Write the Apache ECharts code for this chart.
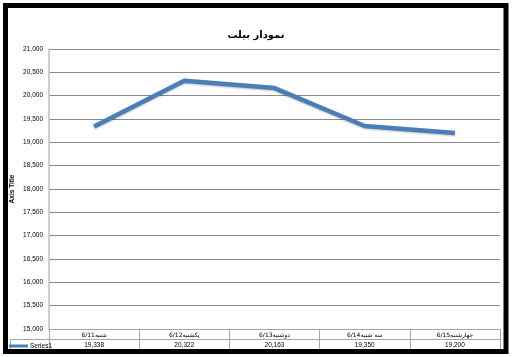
<!DOCTYPE html>
<html><head><meta charset="utf-8">
<script src="https://cdn.jsdelivr.net/npm/echarts@6/dist/echarts.min.js"></script>
<style>html,body{margin:0;padding:0;background:#fff}#c{width:512px;height:357px}</style>
</head><body><div id="c"></div>
<script>
const titleText = 'نمودار بیلت';
const categories = ['6/11شنبه', '6/12یکشنبه', '6/13دوشنبه', '6/14سه شنبه', '6/15چهارشنبه'];
const seriesName = 'Series1';
const values = [19338, 20322, 20163, 19350, 19200];
const yMin = 15000, yMax = 21000, yStep = 500;
const axisTitle = 'Axis Title';

const fmt = v => v.toLocaleString('en-US');
const font = 'Liberation Sans, Arial, DejaVu Sans, sans-serif';
const arFont = 'DejaVu Sans, sans-serif';
const tableLine = '#a6a6a6';
const chart = echarts.init(document.getElementById('c'), null, {renderer: 'canvas'});
const gridL = 49, gridR = 12, gridT = 49, gridB = 28;
chart.setOption({
  animation: false,
  backgroundColor: '#fff',
  title: {
    text: titleText, left: 'center', top: 25,
    textStyle: {fontSize: 10, fontWeight: 'bold', color: '#000', fontFamily: arFont}
  },
  legend: {
    left: 9, top: 342.5, itemWidth: 19, itemHeight: 3, itemGap: 2, icon: 'rect',
    padding: 0,
    textStyle: {fontSize: 6.5, color: '#000', fontFamily: font, padding: [0, 0, 0, -3]},
    data: [seriesName]
  },
  grid: {left: gridL, right: gridR, top: gridT, bottom: gridB},
  xAxis: [
    {
      type: 'category', data: categories, position: 'bottom', boundaryGap: true,
      axisLine: {show: true, lineStyle: {color: tableLine, width: 1}},
      axisTick: {show: true, length: 20, lineStyle: {color: tableLine}},
      axisLabel: {fontSize: 6, color: '#000', margin: 3, fontFamily: arFont}
    },
    {
      type: 'category', data: categories, position: 'bottom', offset: 10, boundaryGap: true,
      axisLine: {show: true, lineStyle: {color: tableLine, width: 1}},
      axisTick: {show: false},
      axisLabel: {fontSize: 6.5, color: '#000', margin: 3, fontFamily: font,
        formatter: (v, i) => fmt(values[i])}
    },
    {
      type: 'category', data: categories, position: 'bottom', offset: 20, boundaryGap: true,
      axisLine: {show: true, lineStyle: {color: tableLine, width: 1}},
      axisTick: {show: false}, axisLabel: {show: false}
    }
  ],
  yAxis: {
    type: 'value', min: yMin, max: yMax, interval: yStep,
    name: axisTitle, nameLocation: 'middle', nameGap: 33, nameRotate: 90,
    nameMoveOverlap: false,
    nameTextStyle: {fontSize: 6.5, fontWeight: 'bold', color: '#000', fontFamily: font},
    axisLine: {show: true, lineStyle: {color: '#bfbfbf', width: 1.5}},
    axisTick: {show: false},
    axisLabel: {fontSize: 6.5, color: '#000', margin: 6, fontFamily: font, formatter: v => fmt(v)},
    splitLine: {show: true, lineStyle: {color: '#8a8a8a', width: 1}}
  },
  series: [{
    name: seriesName, type: 'line', data: values, showSymbol: false, symbol: 'none',
    lineStyle: {color: '#4a7ebb', width: 4.5, shadowColor: 'rgba(0,0,0,0.25)', shadowBlur: 2, shadowOffsetY: 1},
    itemStyle: {color: '#4a7ebb'}
  }],
  graphic: [
    {type: 'line', shape: {x1: 10, y1: 339.5, x2: gridL, y2: 339.5}, style: {stroke: tableLine, lineWidth: 1}},
    {type: 'line', shape: {x1: 10, y1: 349.5, x2: gridL, y2: 349.5}, style: {stroke: tableLine, lineWidth: 1}},
    {type: 'line', shape: {x1: 10.5, y1: 339.5, x2: 10.5, y2: 349.5}, style: {stroke: tableLine, lineWidth: 1}},
    {type: 'rect', shape: {x: 5.5, y: 5.5, width: 500.5, height: 346}, style: {fill: null, stroke: '#000', lineWidth: 5}, z: 100}
  ]
});
</script></body></html>
